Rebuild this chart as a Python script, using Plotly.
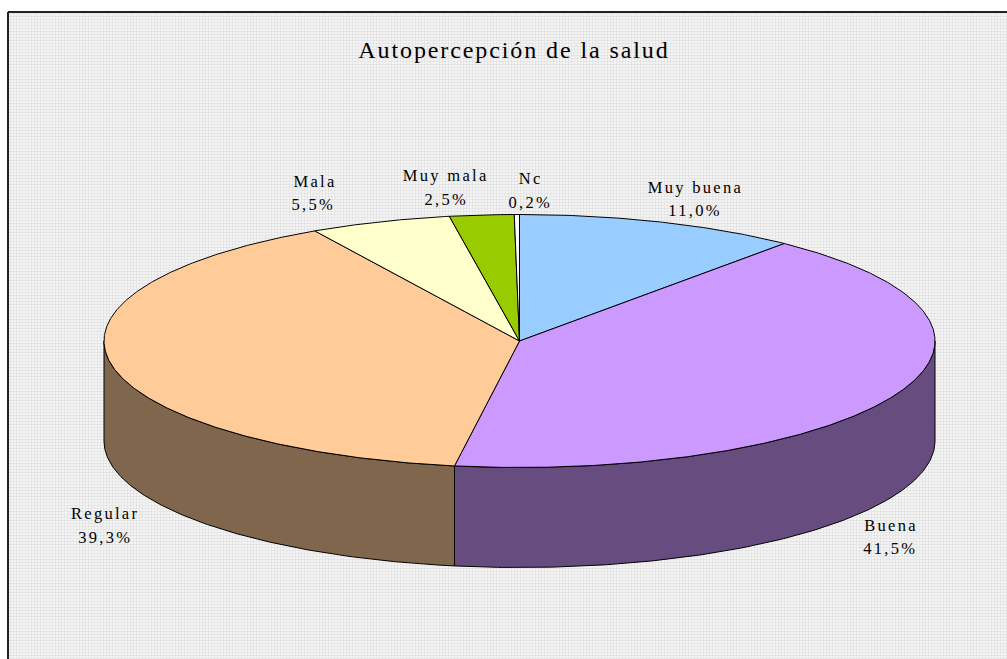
import numpy as np
import plotly.graph_objects as go

categories = ["Muy buena", "Buena", "Regular", "Mala", "Muy mala", "Nc"]
values = [11.0, 41.5, 39.3, 5.5, 2.5, 0.2]
value_labels = ["11,0%", "41,5%", "39,3%", "5,5%", "2,5%", "0,2%"]
top_colors = ["#99CCFF", "#CC99FF", "#FFCC99", "#FFFFCC", "#99CC00", "#FFFFFF"]
side_colors = ["#4C667F", "#664C7F", "#7F664C", "#7F7F66", "#4C6600", "#7F7F7F"]
title = "Autopercepción de la salud"

# pie geometry (pixels of the page)
CX, CY, RX, RY, DEPTH = 519.5, 341, 415.5, 126.5, 100
W, H = 1007, 659
label_name_xy = [(695, 187), (891, 525), (105, 513), (315, 181), (446, 175), (530, 178)]
label_value_xy = [(695, 210), (890, 548), (105, 537), (313, 204), (446, 199), (530, 202)]


def px(t):
    return CX + RX * np.sin(np.radians(t))


def py(t):
    return CY - RY * np.cos(np.radians(t))


fig = go.Figure()

# patterned chart area
fig.add_trace(go.Scatter(
    x=[8, W + 20, W + 20, 8, 8], y=[12, 12, H + 20, H + 20, 12],
    mode="lines", fill="toself", line=dict(color="#222222", width=2),
    fillcolor="#E6E6E6",
    fillpattern=dict(shape="+", size=3, solidity=0.35, fgcolor="#C8C8C8", bgcolor="#F4F4F4"),
    hoverinfo="skip", showlegend=False))

angles = np.concatenate([[0], np.cumsum(values)]) * 3.6
angles = angles / angles[-1] * 360

# front wall
for i in range(len(values)):
    a, b = max(angles[i], 90), min(angles[i + 1], 270)
    if b <= a:
        continue
    t = np.linspace(a, b, 150)
    xs = np.concatenate([px(t), px(t[::-1]), [px(t[0])]])
    ys = np.concatenate([py(t), py(t[::-1]) + DEPTH, [py(t[0])]])
    fig.add_trace(go.Scatter(x=xs, y=ys, mode="lines", fill="toself",
                             fillcolor=side_colors[i], line=dict(color="#000000", width=1),
                             hoverinfo="skip", showlegend=False))

# top face
for i, name in enumerate(categories):
    t = np.linspace(angles[i], angles[i + 1], max(3, int(angles[i + 1] - angles[i]) * 3))
    xs = np.concatenate([[CX], px(t), [CX]])
    ys = np.concatenate([[CY], py(t), [CY]])
    fig.add_trace(go.Scatter(x=xs, y=ys, mode="lines", fill="toself", name=name,
                             fillcolor=top_colors[i], line=dict(color="#000000", width=1),
                             hoverinfo="skip", showlegend=False))

font_label = dict(family="Liberation Serif", size=16.5, color="#000000")
ann = [dict(x=513.5, y=50, text=title, showarrow=False, xref="x", yref="y",
            font=dict(family="Liberation Serif", size=24, color="#000000"))]
for i, name in enumerate(categories):
    ann.append(dict(x=label_name_xy[i][0], y=label_name_xy[i][1], text=name, showarrow=False,
                    xref="x", yref="y", font=font_label))
    ann.append(dict(x=label_value_xy[i][0], y=label_value_xy[i][1], text=value_labels[i],
                    showarrow=False, xref="x", yref="y", font=font_label))

fig.update_layout(
    width=W, height=H, margin=dict(l=0, r=0, t=0, b=0),
    paper_bgcolor="#FFFFFF", plot_bgcolor="#FFFFFF",
    xaxis=dict(range=[0, W], visible=False, fixedrange=True),
    yaxis=dict(range=[H, 0], visible=False, fixedrange=True),
    annotations=ann, showlegend=False)

post = """
document.body.style.margin='0';
document.querySelectorAll('.annotation-text').forEach(function(t,i){
  t.style.letterSpacing = (i===0) ? '1.9px' : '2.3px';
});
"""
fig.write_html("out.html", post_script=post, config={"displayModeBar": False})
